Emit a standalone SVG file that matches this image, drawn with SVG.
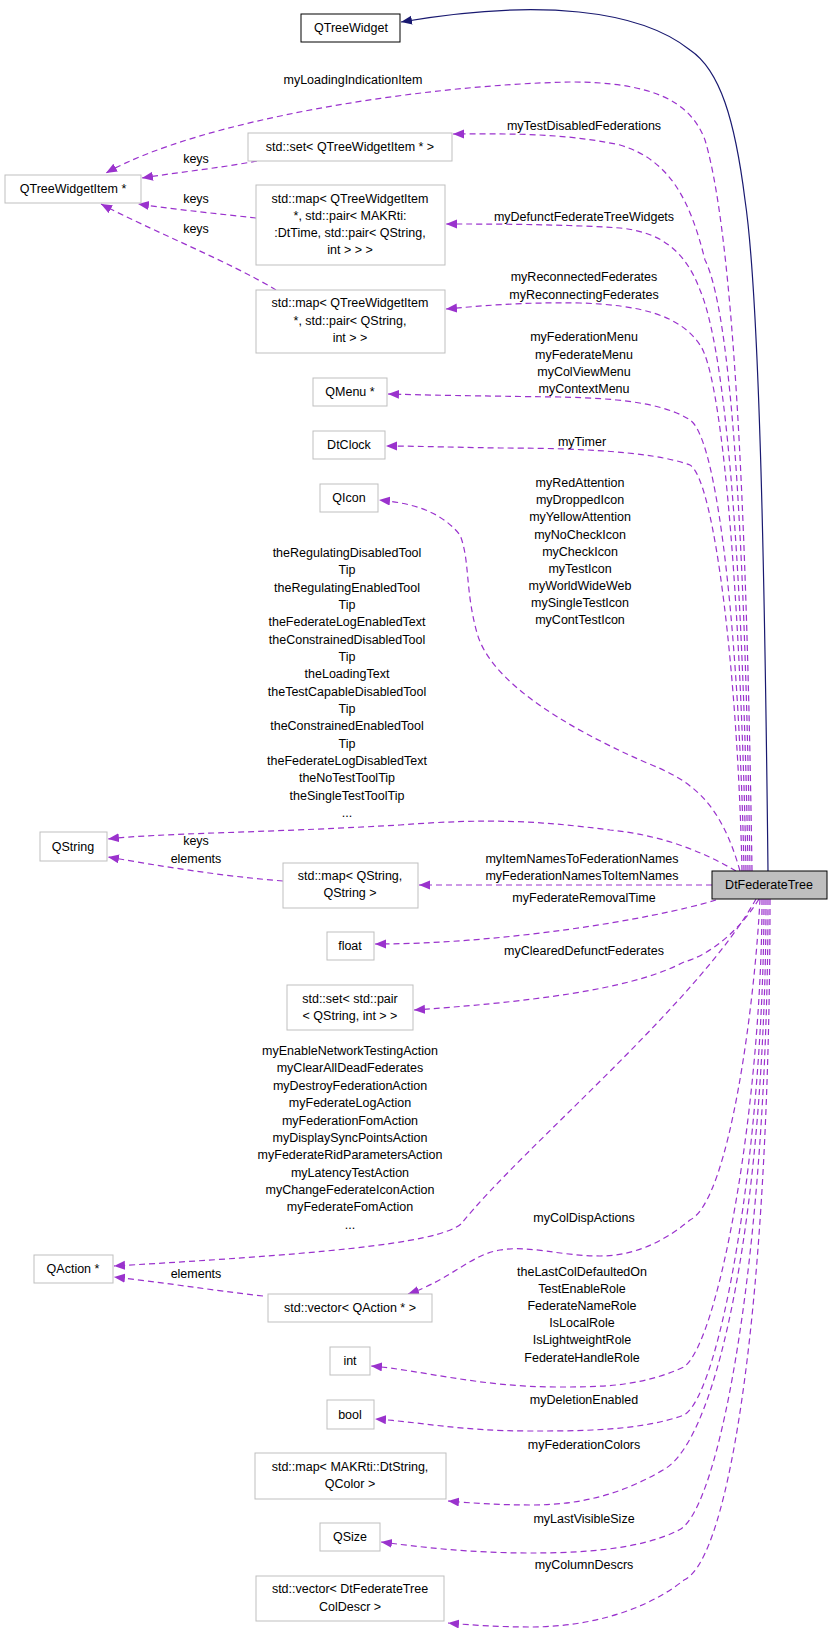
<svg xmlns="http://www.w3.org/2000/svg" width="829" height="1633" viewBox="0 0 829 1633">
<style>
.n rect{fill:#fff;stroke:#bfbfbf;stroke-width:1}
.n text,.l{font-family:"Liberation Sans",Arial,sans-serif;font-size:12.5px;text-anchor:middle;fill:#000}
.e{fill:none;stroke:#9a32cd;stroke-width:1.2;stroke-dasharray:6,4;marker-end:url(#ap)}
</style>
<defs>
<marker id="ap" markerWidth="12" markerHeight="10" refX="11" refY="4.5" orient="auto" markerUnits="userSpaceOnUse"><path d="M0,0 L11,4.5 L0,9 Z" fill="#9a32cd"/></marker>
<marker id="an" markerWidth="12" markerHeight="10" refX="11" refY="4.5" orient="auto" markerUnits="userSpaceOnUse"><path d="M0,0 L11,4.5 L0,9 Z" fill="#191970"/></marker>
</defs>
<rect width="829" height="1633" fill="#fff"/>
<g id="edges">
<path d="M768,871 C765,600 760,300 745,200 C735,120 720,70 690,50 C640,10 540,-2 401,22" fill="none" stroke="#191970" stroke-width="1.2" marker-end="url(#an)"/>
<path class="e" d="M752,871 C748,600 738,250 705,140 C690,100 650,82 570,82 C420,85 200,120 106,173"/>
<path class="e" d="M750,871 C746,600 735,320 705,260 C690,200 670,160 620,145 C560,132 500,134 453,134"/>
<path class="e" d="M748,871 C744,620 730,360 700,290 C685,250 660,232 620,228 C560,224 490,224 446,224"/>
<path class="e" d="M746,871 C742,640 725,380 700,345 C680,315 640,305 580,303 C520,302 480,306 446,309"/>
<path class="e" d="M744,871 C740,660 720,440 690,420 C660,400 600,398 560,397 C480,396 420,395 388,394"/>
<path class="e" d="M742,871 C738,680 715,480 690,465 C650,450 560,448 500,448 C440,447 410,446 386,446"/>
<path class="e" d="M740,871 C720,800 690,780 647,763 C560,725 490,680 477,633 C465,590 470,560 460,535 C440,510 410,503 379,500"/>
<path class="e" d="M736,871 C700,850 660,835 610,830 C540,821 490,818 400,825 C260,833 160,833 108,839"/>
<path class="e" d="M712,885 L419,885"/>
<path class="e" d="M716,900 C650,920 500,944 375,944"/>
<path class="e" d="M759,899 C740,930 710,955 684,962 C640,985 560,1000 414,1010"/>
<path class="e" d="M756,899 C700,1000 520,1150 462,1223 C440,1245 300,1255 114,1266"/>
<path class="e" d="M760,899 C755,1000 730,1200 690,1220 C660,1245 630,1256 600,1256 C560,1256 530,1245 500,1250 C470,1255 450,1280 408,1294"/>
<path class="e" d="M762,899 C762,1100 720,1340 684,1367 C640,1387 600,1387 557,1387 C480,1387 420,1370 371,1366"/>
<path class="e" d="M764,899 C764,1150 720,1395 684,1415 C640,1431 580,1431 530,1431 C460,1431 420,1422 375,1419"/>
<path class="e" d="M766,899 C766,1200 720,1440 663,1470 C620,1495 580,1505 530,1505 C500,1505 470,1503 448,1501"/>
<path class="e" d="M768,899 C768,1250 720,1510 679,1530 C640,1550 580,1553 530,1553 C470,1553 420,1547 381,1542"/>
<path class="e" d="M770,899 C770,1300 730,1560 684,1580 C640,1615 580,1627 530,1627 C500,1627 470,1625 448,1623"/>
<path class="e" d="M257,161 C220,168 180,172 142,178"/>
<path class="e" d="M256,218 C220,214 180,210 138,204"/>
<path class="e" d="M276,290 C230,262 150,230 101,204"/>
<path class="e" d="M283,881 C220,876 160,866 108,857"/>
<path class="e" d="M263,1296 C210,1290 160,1282 114,1277"/>
</g>
<g id="labels">
<text class="l" x="353" y="84">myLoadingIndicationItem</text>
<text class="l" x="584" y="130">myTestDisabledFederations</text>
<text class="l" x="584" y="221">myDefunctFederateTreeWidgets</text>
<text class="l" x="584" y="281">myReconnectedFederates</text>
<text class="l" x="584" y="299">myReconnectingFederates</text>
<text class="l" x="584" y="341">myFederationMenu</text>
<text class="l" x="584" y="359">myFederateMenu</text>
<text class="l" x="584" y="376">myColViewMenu</text>
<text class="l" x="584" y="393">myContextMenu</text>
<text class="l" x="582" y="446">myTimer</text>
<text class="l" x="580" y="487">myRedAttention</text>
<text class="l" x="580" y="504">myDroppedIcon</text>
<text class="l" x="580" y="521">myYellowAttention</text>
<text class="l" x="580" y="539">myNoCheckIcon</text>
<text class="l" x="580" y="556">myCheckIcon</text>
<text class="l" x="580" y="573">myTestIcon</text>
<text class="l" x="580" y="590">myWorldWideWeb</text>
<text class="l" x="580" y="607">mySingleTestIcon</text>
<text class="l" x="580" y="624">myContTestIcon</text>
<text class="l" x="347" y="557">theRegulatingDisabledTool</text>
<text class="l" x="347" y="574">Tip</text>
<text class="l" x="347" y="592">theRegulatingEnabledTool</text>
<text class="l" x="347" y="609">Tip</text>
<text class="l" x="347" y="626">theFederateLogEnabledText</text>
<text class="l" x="347" y="644">theConstrainedDisabledTool</text>
<text class="l" x="347" y="661">Tip</text>
<text class="l" x="347" y="678">theLoadingText</text>
<text class="l" x="347" y="696">theTestCapableDisabledTool</text>
<text class="l" x="347" y="713">Tip</text>
<text class="l" x="347" y="730">theConstrainedEnabledTool</text>
<text class="l" x="347" y="748">Tip</text>
<text class="l" x="347" y="765">theFederateLogDisabledText</text>
<text class="l" x="347" y="782">theNoTestToolTip</text>
<text class="l" x="347" y="800">theSingleTestToolTip</text>
<text class="l" x="347" y="817">...</text>
<text class="l" x="582" y="863">myItemNamesToFederationNames</text>
<text class="l" x="582" y="880">myFederationNamesToItemNames</text>
<text class="l" x="584" y="902">myFederateRemovalTime</text>
<text class="l" x="584" y="955">myClearedDefunctFederates</text>
<text class="l" x="350" y="1055">myEnableNetworkTestingAction</text>
<text class="l" x="350" y="1072">myClearAllDeadFederates</text>
<text class="l" x="350" y="1090">myDestroyFederationAction</text>
<text class="l" x="350" y="1107">myFederateLogAction</text>
<text class="l" x="350" y="1125">myFederationFomAction</text>
<text class="l" x="350" y="1142">myDisplaySyncPointsAction</text>
<text class="l" x="350" y="1159">myFederateRidParametersAction</text>
<text class="l" x="350" y="1177">myLatencyTestAction</text>
<text class="l" x="350" y="1194">myChangeFederateIconAction</text>
<text class="l" x="350" y="1211">myFederateFomAction</text>
<text class="l" x="350" y="1229">...</text>
<text class="l" x="584" y="1222">myColDispActions</text>
<text class="l" x="582" y="1276">theLastColDefaultedOn</text>
<text class="l" x="582" y="1293">TestEnableRole</text>
<text class="l" x="582" y="1310">FederateNameRole</text>
<text class="l" x="582" y="1327">IsLocalRole</text>
<text class="l" x="582" y="1344">IsLightweightRole</text>
<text class="l" x="582" y="1362">FederateHandleRole</text>
<text class="l" x="584" y="1404">myDeletionEnabled</text>
<text class="l" x="584" y="1449">myFederationColors</text>
<text class="l" x="584" y="1523">myLastVisibleSize</text>
<text class="l" x="584" y="1569">myColumnDescrs</text>
<text class="l" x="196" y="163">keys</text>
<text class="l" x="196" y="203">keys</text>
<text class="l" x="196" y="233">keys</text>
<text class="l" x="196" y="845">keys</text>
<text class="l" x="196" y="863">elements</text>
<text class="l" x="196" y="1278">elements</text>
</g>
<g id="QTreeWidget" class="n"><rect x="301" y="14" width="99" height="28" style="stroke:#000"/><text x="351" y="32">QTreeWidget</text></g>
<g id="QTreeWidgetItem" class="n"><rect x="5" y="175" width="136" height="28"/><text x="73" y="193">QTreeWidgetItem *</text></g>
<g id="setQTWI" class="n"><rect x="248" y="133" width="204" height="28"/><text x="350" y="151">std::set&lt; QTreeWidgetItem * &gt;</text></g>
<g id="mapQTWI1" class="n"><rect x="256" y="185" width="189" height="80"/><text x="350" y="203">std::map&lt; QTreeWidgetItem</text><text x="350" y="220">*, std::pair&lt; MAKRti:</text><text x="350" y="237">:DtTime, std::pair&lt; QString,</text><text x="350" y="254">int &gt; &gt; &gt;</text></g>
<g id="mapQTWI2" class="n"><rect x="256" y="290" width="189" height="63"/><text x="350" y="307">std::map&lt; QTreeWidgetItem</text><text x="350" y="325">*, std::pair&lt; QString,</text><text x="350" y="342">int &gt; &gt;</text></g>
<g id="QMenu" class="n"><rect x="313" y="378" width="74" height="28"/><text x="350" y="396">QMenu *</text></g>
<g id="DtClock" class="n"><rect x="313" y="431" width="72" height="28"/><text x="349" y="449">DtClock</text></g>
<g id="QIcon" class="n"><rect x="320" y="484" width="58" height="28"/><text x="349" y="502">QIcon</text></g>
<g id="QString" class="n"><rect x="40" y="832" width="67" height="29"/><text x="73" y="851">QString</text></g>
<g id="mapQString" class="n"><rect x="283" y="863" width="135" height="45"/><text x="350" y="880">std::map&lt; QString,</text><text x="350" y="897">QString &gt;</text></g>
<g id="DtFederateTree" class="n"><rect x="712" y="871" width="115" height="28" style="fill:#bfbfbf;stroke:#000"/><text x="769" y="889">DtFederateTree</text></g>
<g id="float" class="n"><rect x="327" y="932" width="47" height="28"/><text x="350" y="950">float</text></g>
<g id="setPair" class="n"><rect x="287" y="985" width="126" height="45"/><text x="350" y="1003">std::set&lt; std::pair</text><text x="350" y="1020">&lt; QString, int &gt; &gt;</text></g>
<g id="QAction" class="n"><rect x="34" y="1255" width="79" height="28"/><text x="73" y="1273">QAction *</text></g>
<g id="vecQAction" class="n"><rect x="268" y="1294" width="164" height="28"/><text x="350" y="1312">std::vector&lt; QAction * &gt;</text></g>
<g id="int" class="n"><rect x="330" y="1347" width="40" height="28"/><text x="350" y="1365">int</text></g>
<g id="bool" class="n"><rect x="327" y="1400" width="47" height="29"/><text x="350" y="1419">bool</text></g>
<g id="mapColor" class="n"><rect x="255" y="1453" width="191" height="46"/><text x="350" y="1471">std::map&lt; MAKRti::DtString,</text><text x="350" y="1488">QColor &gt;</text></g>
<g id="QSize" class="n"><rect x="320" y="1523" width="60" height="28"/><text x="350" y="1541">QSize</text></g>
<g id="vecColDescr" class="n"><rect x="256" y="1576" width="188" height="45"/><text x="350" y="1593">std::vector&lt; DtFederateTree</text><text x="350" y="1611">ColDescr &gt;</text></g>
</svg>
